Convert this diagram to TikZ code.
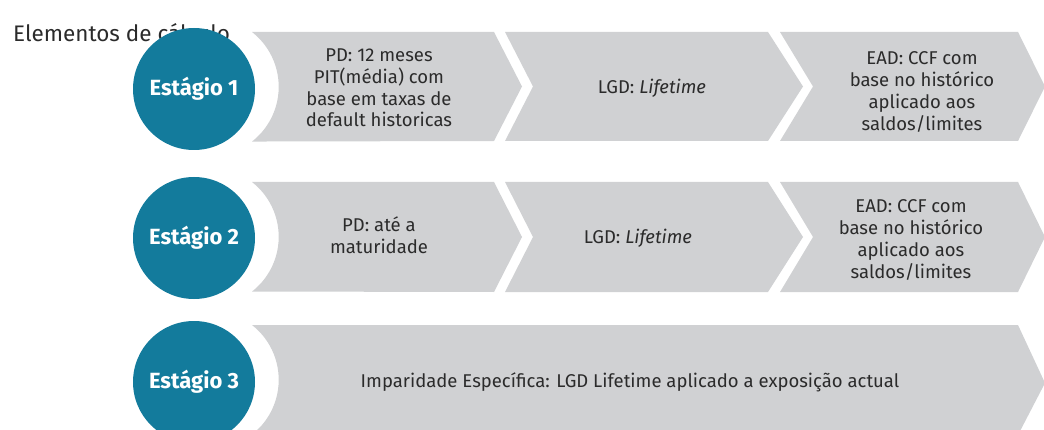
\documentclass[tikz,border=0pt]{standalone}
\usepackage{fontspec}
\setmainfont{Fira Sans}
\definecolor{stagecol}{HTML}{137B9C}
\definecolor{chevcol}{HTML}{D0D1D3}
\definecolor{txtcol}{HTML}{2B2B2B}
\begin{document}
\begin{tikzpicture}[x=1pt,y=1pt,
  chevfill/.style={fill=chevcol,draw=none},
  stage/.style={circle,fill=stagecol,draw=none,minimum size=122pt,inner sep=0pt,text=white,font=\fontsize{22}{26}\selectfont\bfseries},
  lbl/.style={align=center,text=txtcol,font=\fontsize{18.5}{21.8}\selectfont,inner sep=0pt}
]
\useasboundingbox (0,0) rectangle (1044,429);
\clip (0,0) rectangle (1044,429);
% title
\node[anchor=base west,inner sep=0pt,text=txtcol,font=\fontsize{22.5}{26}\selectfont] (title) at (13,387) {Elementos de cálculo};
% row chevrons: rows with top T, bottom B, mid M
\foreach \T/\B/\M in {397/288/342.5, 247/137/192} {
  \path[chevfill] (252,\T) arc[start angle=52,end angle=-52,radius=69.5pt] -- (494,\B) -- (522,\M) -- (494,\T) -- cycle;
  \path[chevfill] (505,\T) -- (768,\T) -- (803,\M) -- (768,\B) -- (505,\B) -- (533,\M) -- cycle;
  \path[chevfill] (780,\T) -- (1018,\T) -- (1045,\M) -- (1018,\B) -- (780,\B) -- (813,\M) -- cycle;
}
\path[chevfill] (252,104) arc[start angle=52,end angle=-52,radius=69.5pt] -- (1018,-6) -- (1045,46) -- (1018,104) -- cycle;
% stage circles
\node[stage] (s1) at (194,340) {Estágio 1};
\node[stage] (s2) at (194,191) {Estágio 2};
\node[stage] (s3) at (194,47) {Estágio 3};
% texts
\node[lbl] (a1) at (379,341) {PD: 12 meses\\PIT(média) com\\base em taxas de\\default historicas};
\node[lbl] (b1) at (652,340.5) {LGD: \textit{Lifetime}};
\node[lbl] (c1) at (922,337) {EAD: CCF com\\base no histórico\\aplicado aos\\saldos/limites};
\node[lbl] (a2) at (379,194) {PD: até a\\maturidade};
\node[lbl] (b2) at (638,191) {LGD: \textit{Lifetime}};
\node[lbl] (c2) at (911,189) {EAD: CCF com\\base no histórico\\aplicado aos\\saldos/limites};
\node[lbl] (a3) at (630,47) {Imparidade Específica: LGD Lifetime aplicado a exposição actual};
\end{tikzpicture}
\end{document}
